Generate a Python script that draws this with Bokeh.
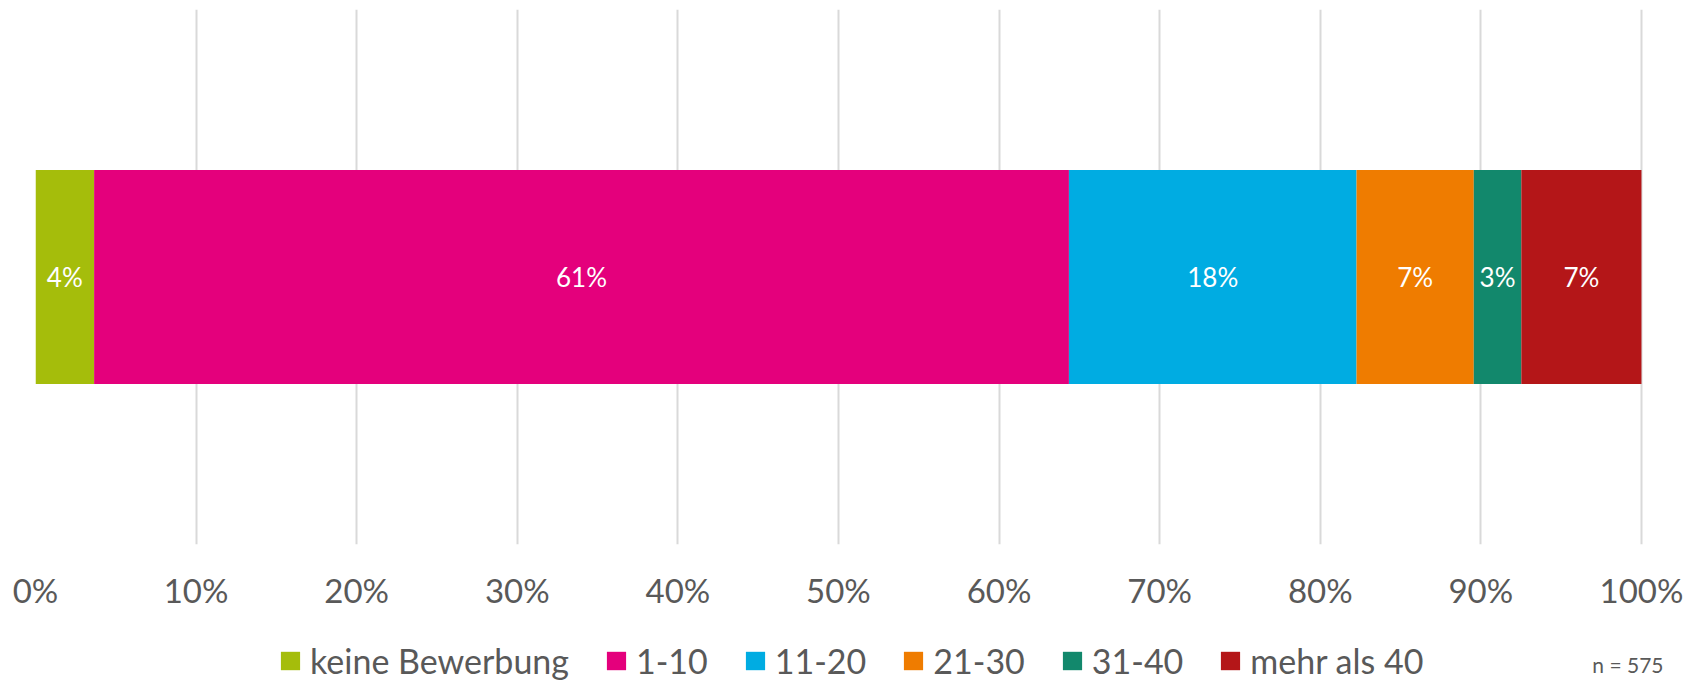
import numpy as np
from bokeh.plotting import figure
from bokeh.layouts import column
from bokeh.models import (ColumnDataSource, Range1d, FixedTicker, Legend, LegendItem, Label)
from bokeh.core.properties import value
from bokeh.embed import file_html
from bokeh.resources import INLINE

# ---- data ----
categories = ["keine Bewerbung", "1-10", "11-20", "21-30", "31-40", "mehr als 40"]
shares = [3.65, 60.70, 17.91, 7.30, 2.96, 7.48]          # percent of n = 575
share_labels = ["4%", "61%", "18%", "7%", "3%", "7%"]
colors = ["#A5BD0B", "#E4007C", "#00ACE2", "#EF7C00", "#12886C", "#B41618"]
tick_values = [0, 10, 20, 30, 40, 50, 60, 70, 80, 90, 100]
tick_labels = ["0%", "10%", "20%", "30%", "40%", "50%", "60%", "70%", "80%", "90%", "100%"]
sample_note = "n = 575"

FONT = "Lato"
GRAY = "#595959"
W = 1688
LEFT = 35

# ---- main chart ----
p = figure(width=W, height=612, output_backend="svg", toolbar_location=None,
           x_range=Range1d(0, 102.93), y_range=Range1d(0, 1),
           min_border_left=LEFT, min_border_right=0, min_border_top=9, min_border_bottom=0)
p.outline_line_color = None
p.border_fill_color = "white"

src = ColumnDataSource({"y": [0.5], **{c: [v] for c, v in zip(categories, shares)}})
p.hbar_stack(categories, y="y", height=0.4, color=colors, source=src, line_width=0)

cum = np.cumsum(shares)
mids = cum - np.array(shares) / 2
p.text(x=list(mids), y=[0.5] * len(mids), text=share_labels, text_color="white",
       text_align="center", text_baseline="middle",
       text_font=value(FONT), text_font_size="26px")

p.yaxis.visible = False
p.ygrid.visible = False
ax = p.xaxis[0]
ax.ticker = FixedTicker(ticks=tick_values)
ax.major_label_overrides = {v: l for v, l in zip(tick_values, tick_labels)}
ax.axis_line_color = None
ax.major_tick_line_color = None
ax.minor_tick_line_color = None
ax.major_tick_out = 0
ax.major_tick_in = 0
ax.major_label_standoff = 25
ax.major_label_text_font = FONT
ax.major_label_text_font_size = "33px"
ax.major_label_text_color = GRAY
p.xgrid.ticker = FixedTicker(ticks=tick_values)
p.xgrid.grid_line_color = "#D9D9D9"
p.xgrid.grid_line_width = 2

# ---- legend strip ----
p2 = figure(width=W, height=68, output_backend="svg", toolbar_location=None,
            x_range=Range1d(0, 100), y_range=Range1d(2, 3),
            x_axis_location=None, y_axis_location=None,
            min_border_left=LEFT, min_border_right=0, min_border_top=0, min_border_bottom=0)
p2.grid.visible = False
p2.outline_line_color = None
p2.border_fill_color = "white"
# legend swatches take their colours from these (out-of-view) renderers
swatches = p2.hbar_stack(categories, y="y", height=0.4, color=colors, source=src, line_width=0)

lg = Legend(items=[LegendItem(label=c, renderers=[r]) for c, r in zip(categories, swatches)],
            orientation="horizontal", location=(243, -1),
            border_line_color=None, background_fill_alpha=0,
            padding=0, margin=0, spacing=35,
            glyph_width=24, glyph_height=23, label_standoff=8,
            label_text_font=FONT, label_text_font_size="34px", label_text_color=GRAY)
p2.add_layout(lg)

note = Label(x=1663 - LEFT, y=16, x_units="screen", y_units="screen", text=sample_note,
             text_align="right", text_baseline="middle", text_font=FONT,
             text_font_size="21px", text_color=GRAY)
p2.add_layout(note)

layout = column(p, p2, spacing=0)
open("out.html", "w").write(file_html(layout, INLINE))
